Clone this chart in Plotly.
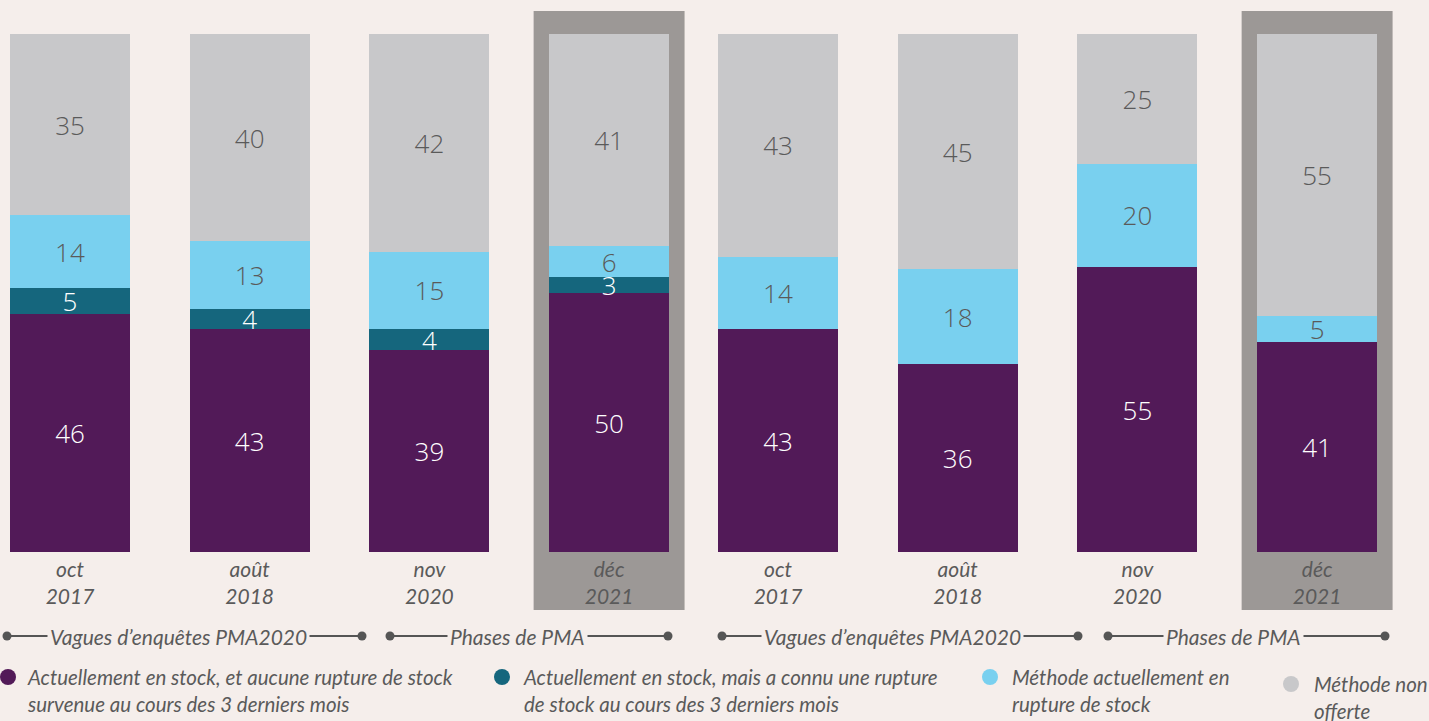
import plotly.graph_objects as go

# Survey waves (x categories), in two groups of four
months = ["oct", "août", "nov", "déc", "oct", "août", "nov", "déc"]
years = ["2017", "2018", "2020", "2021", "2017", "2018", "2020", "2021"]
group_of_wave = [0, 0, 0, 0, 1, 1, 1, 1]

# Stock status shares (%)
in_stock_no_out = [46, 43, 39, 50, 43, 36, 55, 41]
in_stock_recent_out = [5, 4, 4, 3, None, None, None, None]
stocked_out_now = [14, 13, 15, 6, 14, 18, 20, 5]
not_offered = [35, 40, 42, 41, 43, 45, 25, 55]

series_names = [
    "Actuellement en stock, et aucune rupture de stock<br>survenue au cours des 3 derniers mois",
    "Actuellement en stock, mais a connu une rupture<br>de stock au cours des 3 derniers mois",
    "Méthode actuellement en<br>rupture de stock",
    "Méthode non<br>offerte",
]
highlighted = [3, 7]  # PMA phase waves shown on a grey panel
group_labels = ["Vagues d’enquêtes PMA2020", "Phases de PMA",
                "Vagues d’enquêtes PMA2020", "Phases de PMA"]

BG = "#f5eeeb"
PURPLE = "#521a58"
TEAL = "#15667d"
LIGHT = "#79d0ef"
GREY = "#c8c8ca"
PANEL = "#9c9896"
TXT = "#5a5a5a"
FONT = "Lato"
NUM_FONT = "Open Sans"

W, H = 1429, 721
GROUP_SHIFT = -0.06  # second group sits slightly closer to the first
x = [i + g * GROUP_SHIFT for i, g in enumerate(group_of_wave)]
X_MIN = -0.3895
X_MAX = X_MIN + W / 179.7


def px(v):
    return v / W


def py(v):
    return 1 - v / H


fig = go.Figure()

layers = [
    (in_stock_no_out, PURPLE, "white"),
    (in_stock_recent_out, TEAL, "white"),
    (stocked_out_now, LIGHT, TXT),
    (not_offered, GREY, TXT),
]
for (vals, col, tcol), name in zip(layers, series_names):
    fig.add_trace(go.Bar(
        x=x, y=vals, name=name, width=0.668,
        marker=dict(color=col, line=dict(width=0)),
        text=["" if v is None else str(v) for v in vals],
        textposition="inside", insidetextanchor="middle",
        textangle=0, constraintext="none",
        textfont=dict(family=NUM_FONT, size=26, color=tcol, weight=300),
        showlegend=False, hoverinfo="skip",
    ))

shapes = []
# Grey panels behind highlighted waves
for i in highlighted:
    shapes.append(dict(
        type="rect", xref="x", yref="paper", layer="below",
        x0=x[i] - 0.42, x1=x[i] + 0.42, y0=py(610), y1=py(11),
        fillcolor=PANEL, line=dict(width=0),
    ))

# Group brackets under the tick labels
brackets = [(7, 362, 178), (390, 668, 517), (722, 1078, 892), (1108, 1385, 1233)]
annotations = []
yb = py(636)
for (a, b, c), lab in zip(brackets, group_labels):
    shapes.append(dict(type="line", xref="paper", yref="paper",
                       x0=px(a), x1=px(b), y0=yb, y1=yb,
                       line=dict(color="#555555", width=2)))
    for e in (a, b):
        shapes.append(dict(type="circle", xref="paper", yref="paper",
                           xsizemode="pixel", ysizemode="pixel",
                           xanchor=px(e), yanchor=yb,
                           x0=-4.5, x1=4.5, y0=-4.5, y1=4.5,
                           fillcolor="#555555", line=dict(width=0)))
    annotations.append(dict(
        x=px(c), y=yb, xref="paper", yref="paper", text=lab,
        xanchor="center", yanchor="middle",
        showarrow=False, bgcolor=BG, borderpad=2,
        font=dict(family=FONT, size=21, color=TXT, style="italic"),
    ))

# Legend: coloured dots with two-line labels
legend_items = [
    (8, 677, 25, PURPLE),
    (502, 677, 521, TEAL),
    (990, 677, 1010, LIGHT),
    (1291, 684, 1312, GREY),
]
for (cx, cy, tx, col), name in zip(legend_items, series_names):
    shapes.append(dict(type="circle", xref="paper", yref="paper",
                       xsizemode="pixel", ysizemode="pixel",
                       xanchor=px(cx), yanchor=py(cy),
                       x0=-8, x1=8, y0=-8, y1=8,
                       fillcolor=col, line=dict(width=0)))
    annotations.append(dict(
        x=px(tx), y=py(cy - 14), xref="paper", yref="paper",
        xanchor="left", yanchor="top", align="left", text=name,
        showarrow=False,
        font=dict(family=FONT, size=20.5, color=TXT, style="italic"),
    ))

fig.update_layout(
    width=W, height=H,
    margin=dict(l=0, r=0, t=0, b=0),
    paper_bgcolor=BG, plot_bgcolor="rgba(0,0,0,0)",
    barmode="stack", barnorm="percent",
    uniformtext=dict(minsize=26, mode="show"),
    shapes=shapes, annotations=annotations,
    xaxis=dict(
        domain=[0, 1], range=[X_MIN, X_MAX],
        tickmode="array", tickvals=x,
        ticktext=[f"{m}<br>{y}" for m, y in zip(months, years)],
        tickfont=dict(family=FONT, size=21, color=TXT, style="italic"),
        showgrid=False, zeroline=False, showline=False, ticks="",
        ticklabelstandoff=3,
    ),
    yaxis=dict(
        domain=[py(552), py(34)], range=[0, 100],
        visible=False, showgrid=False, zeroline=False,
    ),
)

fig.write_html("out.html")
